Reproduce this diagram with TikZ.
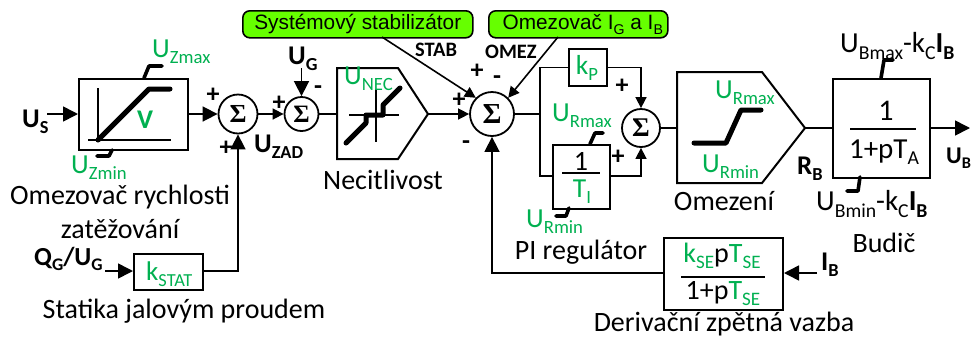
\documentclass[tikz,border=0pt]{standalone}
\usepackage{fontspec}
\setmainfont{Carlito}
\newfontfamily\arialf{Liberation Sans}
\newfontfamily\serf{Liberation Serif}
\usetikzlibrary{arrows.meta,calc}
\definecolor{grn}{HTML}{00B050}
\definecolor{lime}{HTML}{66FF00}
\newcommand{\sbx}[1]{\raisebox{-.22em}{\scalebox{.68}{#1}}}
\newcommand{\fsz}[1]{\fontsize{#1}{#1}\selectfont}
\tikzset{
  x=1pt,y=-1pt,
  wire/.style={line width=1.6pt},
  arr/.style={wire,-{Triangle[length=15pt,width=15pt]}},
  arrs/.style={wire,-{Triangle[length=11pt,width=11pt]}},
  blk/.style={draw,line width=2pt,minimum width=0pt,minimum height=0pt,inner sep=0pt,anchor=north west},
  sumn/.style={circle,draw,line width=1.8pt,fill=white,inner sep=0pt},
  lim/.style={line width=3.6pt,line cap=round,line join=round},
  inner/.style={line width=5pt,line cap=round,line join=round},
  axs/.style={line width=1.6pt},
  lab/.style={inner sep=0pt,font=\fsz{28}},
  glab/.style={inner sep=0pt,font=\fsz{27.5},text=grn},
  blab/.style={inner sep=0pt,font=\fsz{27}\bfseries},
  pm/.style={inner sep=0pt,font=\fsz{26}\bfseries},
  call/.style={draw,line width=1.6pt,fill=lime,rounded corners=7pt,inner sep=0pt,anchor=north west,font=\arialf\fsz{20.8}},
}
\begin{document}
\begin{tikzpicture}
\useasboundingbox (0,0) rectangle (971,338);
% blocks
\node[blk,minimum width=109pt,minimum height=71pt] (V) at (78,78) {};
\node[blk,minimum width=38pt,minimum height=37pt] (KP) at (568,48) {};
\node[blk,minimum width=57pt,minimum height=64pt] (TI) at (552,144) {};
\node[blk,minimum width=97pt,minimum height=99pt] (BU) at (832,78) {};
\node[blk,minimum width=119pt,minimum height=72pt] (SE) at (663,237) {};
\node[blk,minimum width=69pt,minimum height=36pt] (KS) at (133,253) {};
% pentagons
\draw[line width=2pt,line join=miter] (337,68) -- (398,68) -- (428,114) -- (398,159) -- (337,159) -- cycle;
\coordinate (NI) at (337,114);
\coordinate (NO) at (428,114);
\draw[line width=2pt,line join=miter] (677,72) -- (762,72) -- (805,128) -- (762,183) -- (677,183) -- cycle;
\coordinate (OI) at (677,128);
\coordinate (OO) at (805,128);
% callouts
\node[call,minimum width=230pt,minimum height=27pt] (C1) at (242,10) {Systémový stabilizátor};
\node[call,minimum width=179pt,minimum height=27pt] (C2) at (488,10) {\hspace{9pt}Omezovač I\sbx{G} a I\sbx{B}};
% sums
\node[sumn,minimum size=39pt,font=\serf\fsz{26}\bfseries] (S1) at (238,114) {Σ};
\node[sumn,minimum size=34pt,font=\serf\fsz{25}\bfseries] (S2) at (301.5,114) {Σ};
\node[sumn,minimum size=44pt,font=\serf\fsz{29}\bfseries] (S3) at (492,114) {Σ};
\node[sumn,minimum size=38pt,font=\serf\fsz{27}\bfseries] (S4) at (641,128) {Σ};
% free ends
\coordinate (US) at (47,114);
\coordinate (UG) at (301.5,68);
\coordinate (QG) at (105,271);
\coordinate (IB) at (817,273);
\coordinate (UB) at (970,128);
\coordinate (J) at (540,114);
\coordinate (C1o) at (382,37);
\coordinate (C2o) at (558,37);
\coordinate (TIi) at (552,176);
\coordinate (TIo) at (609,176);
% wires
\draw[arr] (US) -- (V.west |- US);
\draw[arr] (V.east |- S1) -- (S1);
\draw[arrs] (S1) -- (S2);
\draw[arr] (UG) -- (S2);
\draw[wire] (S2) -- (NI);
\draw[arrs] (NO) -- (S3);
\draw[wire] (S3) -- (J);
\draw[arrs] (C1o) -- (S3.north west);
\draw[arrs] (C2o) -- (S3.north east);
\draw[wire] (J) |- (KP.west);
\draw[wire] (J) |- (TIi);
\draw[arrs] (KP.east) -| (S4.north);
\draw[arrs] (TIo) -| (S4.south);
\draw[wire] (S4) -- (OI);
\draw[wire] (OO) -- (BU.west |- OO);
\draw[arr] (BU.east |- UB) -- (UB);
\draw[arr] (SE.west |- IB) -| (S3.south);
\draw[arr] (IB) -- (SE.east |- IB);
\draw[arr] (QG) -- (KS.west |- QG);
\draw[arr] (KS.east |- QG) -| (S1.south);
% V block inside
\draw[axs] (98,88) -- (98,141);
\draw[axs] (88,140) -- (171,140);
\draw[inner] (98,140) -- (149,89) -- (170,89);
\node[glab,font=\fsz{27}\bfseries] (vv) at (145,120) {V};
\draw[lim] (144,78) -- (149,66) -- (162,66);
\draw[lim] (112,150) -- (109,156) -- (97,156);
% Necitlivost inner
\draw[axs] (349,115) -- (399,115);
\draw[axs] (376,89) -- (376,142);
\draw[inner] (346,143) -- (366,123) -- (366,115) -- (383,115) -- (383,105) -- (400,88);
% Omezeni inner
\draw[inner] (694,143) -- (726,143) -- (741,110) -- (761,110);
% lim ticks
\draw[lim] (590,144) -- (595,133) -- (603,133);
\draw[lim] (569,208) -- (566,216) -- (556,216);
\draw[lim] (881,78) -- (884,60) -- (893,60);
\draw[lim] (860,177) -- (858,191) -- (847,191);
% fractions
\draw[line width=2pt] (562,173) -- (600,173);
\draw[line width=2.2pt] (850,129) -- (916,129);
\draw[line width=2pt] (681,277) -- (765,277);
% labels
\node[glab,anchor=west] (l1) at (152,52) {U\sbx{Zmax}};
\node[glab,anchor=west] (l2) at (71,168) {U\sbx{Zmin}};
\node[blab,anchor=west] (l3) at (22,122) {U\sbx{S}};
\node[blab,anchor=west] (l4) at (288,59) {U\sbx{G}};
\node[blab,anchor=west] (l5) at (254,147) {U\sbx{ZAD}};
\node[glab,anchor=west] (l6) at (344,79) {U\sbx{NEC}};
\node[lab] (l7) at (383,180) {Necitlivost};
\node[lab] (l8) at (120,197) {Omezovač rychlosti};
\node[lab] (l9) at (120,229) {zatěžování};
\node[blab,anchor=west,font=\fsz{26}\bfseries] (l10) at (34,259) {Q\sbx{G}/U\sbx{G}};
\node[glab,anchor=west,font=\fsz{27}] (l11) at (146,274) {k\sbx{STAT}};
\node[lab] (l12) at (184,311) {Statika jalovým proudem};
\node[blab,anchor=west,font=\fsz{20.5}\bfseries] (l13) at (415,50) {STAB};
\node[blab,anchor=west,font=\fsz{20.5}\bfseries] (l14) at (485,52) {OMEZ};
\node[glab] (l15) at (587,68) {k\sbx{P}};
\node[glab,anchor=west] (l16) at (552,116) {U\sbx{Rmax}};
\node[font=\fsz{28},inner sep=0pt] (l17) at (581,161) {1};
\node[glab] (l18) at (582,192) {T\sbx{I}};
\node[glab,anchor=west] (l19) at (526,222) {U\sbx{Rmin}};
\node[lab] (l20) at (581,252) {PI regulátor};
\node[glab,anchor=west] (l21) at (715,93) {U\sbx{Rmax}};
\node[glab,anchor=west] (l22) at (702,167) {U\sbx{Rmin}};
\node[lab] (l23) at (724,201) {Omezení};
\node[blab,anchor=west] (l24) at (797,169) {R\sbx{B}};
\node[font=\fsz{30},inner sep=0pt] (l25) at (886,111) {1};
\node[font=\fsz{29},inner sep=0pt] (l26) at (884,152) {1+pT\sbx{A}};
\node[lab,anchor=west,font=\fsz{29}] (l27) at (840,46) {U\sbx{Bmax}-k\sbx{C}\textbf{I}\sbx{\textbf{B}}};
\node[lab,anchor=west,font=\fsz{29}] (l28) at (816,204) {U\sbx{Bmin}-k\sbx{C}\textbf{I}\sbx{\textbf{B}}};
\node[lab] (l29) at (884,243) {Budič};
\node[blab,anchor=west,font=\fsz{24}\bfseries] (l30) at (946,158) {U\sbx{B}};
\node[lab] (l31) at (722,256) {\textcolor{grn}{k\sbx{SE}}p\textcolor{grn}{T\sbx{SE}}};
\node[lab] (l32) at (723,293.5) {1+p\textcolor{grn}{T\sbx{SE}}};
\node[blab,anchor=west] (l33) at (821,265) {I\sbx{B}};
\node[lab] (l34) at (724,324) {Derivační zpětná vazba};
% signs
\node[pm] (p1) at (213,95) {+};
\node[pm] (p2) at (226,148) {+};
\node[pm] (p3) at (279,103) {+};
\node[pm] (p4) at (318,90) {-};
\node[pm] (p5) at (459,100) {+};
\node[pm] (p6) at (477,71) {+};
\node[pm] (p7) at (497,80) {-};
\node[pm] (p8) at (466,145) {-};
\node[pm] (p9) at (622,86) {+};
\node[pm] (p10) at (618,157) {+};
\end{tikzpicture}
\end{document}
